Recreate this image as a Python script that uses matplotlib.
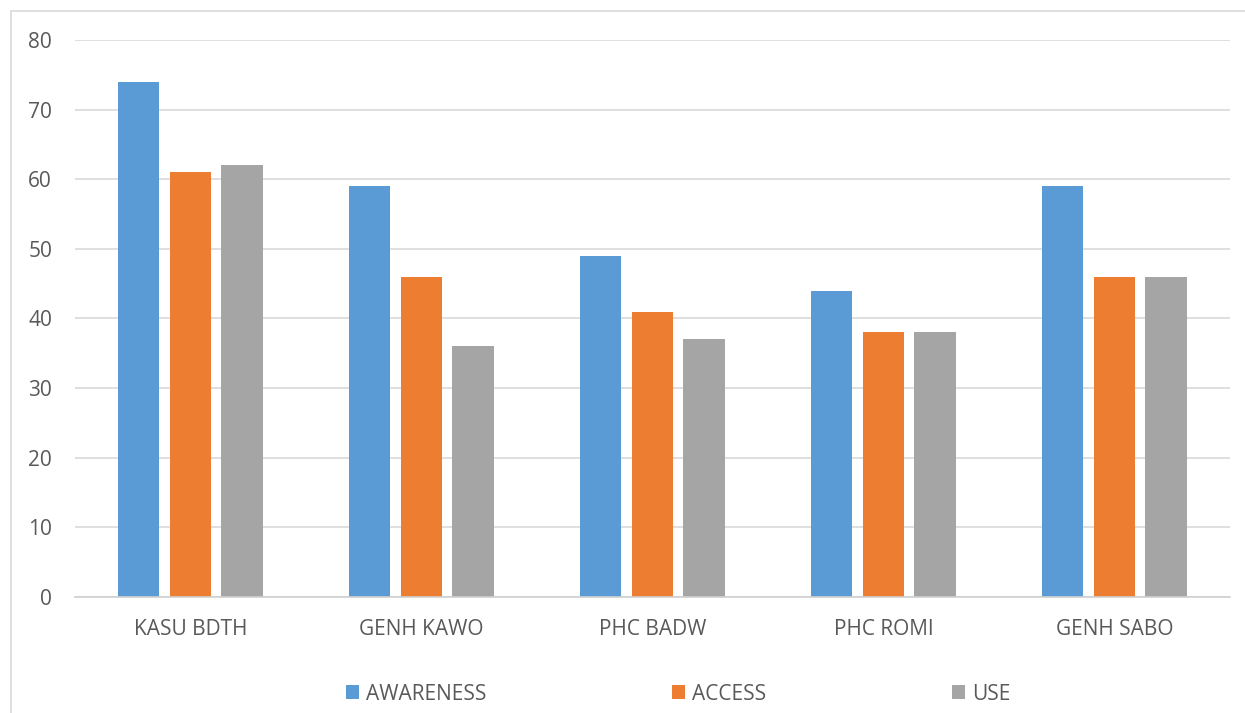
import numpy as np
import matplotlib.pyplot as plt
from matplotlib.patches import Rectangle

plt.rcParams['font.family'] = ['Open Sans', 'DejaVu Sans']

sites = ["KASU BDTH", "GENH KAWO", "PHC BADW", "PHC ROMI", "GENH SABO"]
awareness = [74, 59, 49, 44, 59]
access = [61, 46, 41, 38, 46]
use = [62, 36, 37, 38, 46]

series = [("AWARENESS", awareness, "#5B9BD5"),
          ("ACCESS", access, "#ED7D31"),
          ("USE", use, "#A5A5A5")]

text_col = "#595959"
grid_col = "#D9D9D9"

fig = plt.figure(figsize=(12.45, 7.13), dpi=100)
ax = fig.add_axes([0.0602, 0.1627, 0.9277, 0.7812])

x = np.arange(len(sites))
step = 0.223
width = 0.178
for i, (name, vals, col) in enumerate(series):
    ax.bar(x + (i - 1) * step, vals, width=width, color=col, label=name, zorder=3)

ax.set_xlim(-0.5, len(sites) - 0.5)
ax.set_ylim(0, 80)
ax.set_yticks(range(0, 81, 10))
ax.set_xticks(x)
ax.set_xticklabels(sites)
ax.tick_params(axis='both', length=0, labelsize=15, colors=text_col)
ax.tick_params(axis='y', pad=16.5)
ax.tick_params(axis='x', pad=16)

ax.grid(axis='y', color=grid_col, linewidth=1.2, zorder=0)
for s in ["top", "right", "left"]:
    ax.spines[s].set_visible(False)
ax.spines["bottom"].set_color("#D0D0D0")
ax.spines["bottom"].set_linewidth(1.2)
ax.spines["bottom"].set_zorder(4)

leg = fig.legend(loc="center", bbox_to_anchor=(0.5446, 1 - 694 / 713), ncol=3,
                 frameon=False, fontsize=15, handlelength=0.63, handleheight=0.63,
                 handletextpad=0.34, columnspacing=8.9, labelcolor=text_col)

# chart area border
fig.add_artist(Rectangle((11 / 1245, -0.05), 1.2, 1 - 11 / 713 + 0.05,
                         transform=fig.transFigure, fill=False,
                         edgecolor=grid_col, linewidth=1.2))

fig.savefig("out.png", dpi=100)
